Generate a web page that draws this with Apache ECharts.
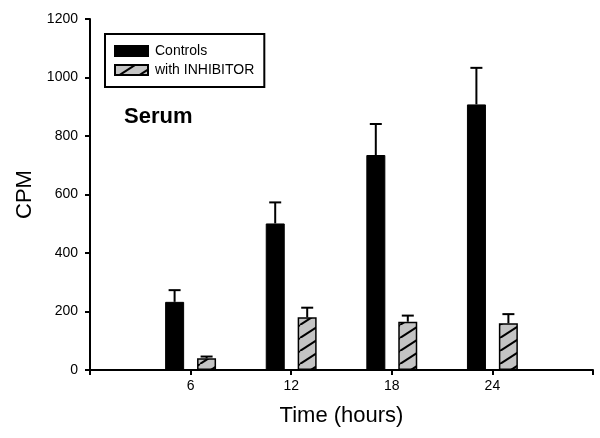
<!DOCTYPE html>
<html>
<head>
<meta charset="utf-8">
<script src="https://cdn.jsdelivr.net/npm/echarts@6/dist/echarts.min.js"></script>
<style>html,body{margin:0;padding:0;background:#fff}#c{width:600px;height:438px}</style>
</head>
<body>
<div id="c"></div>
<script>
var hours = [6, 12, 18, 24];
var controls = [233, 501, 735, 908];
var controlsErr = [40, 72, 106, 125];
var inhibitor = [40, 180, 165, 160];
var inhibitorErr = [6, 33, 21, 31];
var yTicks = [0, 200, 400, 600, 800, 1000, 1200];
var xTickLabels = ['6', '12', '18', '24'];

var FONT = 'Liberation Sans, Arial, Helvetica, sans-serif';

function hatch() {
  var w = 20, h = 13;
  var c = document.createElement('canvas');
  c.width = w; c.height = h;
  var g = c.getContext('2d');
  g.fillStyle = '#c4c4c4';
  g.fillRect(0, 0, w, h);
  g.strokeStyle = '#000';
  g.lineWidth = 2;
  [[-w, 0], [0, 0], [w, 0]].forEach(function (o) {
    g.beginPath();
    g.moveTo(o[0], h);
    g.lineTo(o[0] + w, 0);
    g.stroke();
  });
  return c;
}

function pairs(xs, ys) { return xs.map(function (x, i) { return [x, ys[i]]; }); }
function triples(xs, ys, es) { return xs.map(function (x, i) { return [x, ys[i], es[i]]; }); }

function errRenderer(dx) {
  return function (params, api) {
    var x = api.value(0), v = api.value(1), e = api.value(2);
    var p0 = api.coord([x, v]);
    var p1 = api.coord([x, v + e]);
    var cx = p0[0] + dx;
    return {
      type: 'group',
      children: [
        { type: 'line', shape: { x1: cx, y1: p0[1], x2: cx, y2: p1[1] }, style: { stroke: '#000', lineWidth: 2 } },
        { type: 'line', shape: { x1: cx - 6, y1: p1[1], x2: cx + 6, y2: p1[1] }, style: { stroke: '#000', lineWidth: 2 } }
      ]
    };
  };
}

var chart = echarts.init(document.getElementById('c'), null, { renderer: 'canvas' });
chart.setOption({
  animation: false,
  backgroundColor: '#fff',
  textStyle: { fontFamily: FONT },
  grid: { left: 90, top: 19, right: 7, bottom: 68 },
  legend: {
    left: 105, top: 34,
    orient: 'vertical',
    data: [{ name: 'Controls', icon: 'rect' }, { name: 'with INHIBITOR', icon: 'rect' }],
    itemWidth: 33, itemHeight: 10, itemGap: 5,
    padding: [10, 10, 10, 9],
    borderColor: '#000', borderWidth: 2,
    textStyle: { fontFamily: FONT, fontSize: 14, color: '#000', padding: [0, 0, 0, 2] },
    selectedMode: false
  },
  graphic: [{
    type: 'text', left: 124, top: 106,
    style: { text: 'Serum', font: 'bold 22px ' + FONT, fill: '#000' }
  }],
  xAxis: {
    type: 'value', min: 0, max: 30, interval: 6,
    name: 'Time (hours)', nameLocation: 'middle', nameGap: 35,
    nameTextStyle: { fontFamily: FONT, fontSize: 22, color: '#000' },
    axisLine: { lineStyle: { color: '#000', width: 2 } },
    axisTick: { show: true, length: 5, lineStyle: { color: '#000', width: 2 } },
    axisLabel: {
      margin: 9, fontSize: 14, color: '#000', fontFamily: FONT,
      formatter: function (v) { var i = hours.indexOf(v); return i >= 0 ? xTickLabels[i] : ''; }
    },
    splitLine: { show: false }
  },
  yAxis: {
    type: 'value', min: yTicks[0], max: yTicks[yTicks.length - 1], interval: 200,
    name: 'CPM', nameLocation: 'middle', nameGap: 54,
    nameTextStyle: { fontFamily: FONT, fontSize: 22, color: '#000' },
    axisLine: { show: true, lineStyle: { color: '#000', width: 2 } },
    axisTick: { show: true, length: 5, lineStyle: { color: '#000', width: 2 } },
    axisLabel: { margin: 12, fontSize: 14, color: '#000', fontFamily: FONT, formatter: function (v) { return String(v); } },
    splitLine: { show: false }
  },
  series: [
    {
      name: 'Controls', type: 'bar', data: pairs(hours, controls),
      barWidth: 19, barGap: '68%',
      itemStyle: { color: '#000', borderColor: '#000', borderWidth: 1 }
    },
    {
      name: 'with INHIBITOR', type: 'bar', data: pairs(hours, inhibitor),
      barWidth: 19, barGap: '68%',
      itemStyle: { color: { image: hatch(), repeat: 'repeat' }, borderColor: '#000', borderWidth: 1.5 }
    },
    {
      type: 'custom', data: triples(hours, controls, controlsErr),
      renderItem: errRenderer(-16), z: 3
    },
    {
      type: 'custom', data: triples(hours, inhibitor, inhibitorErr),
      renderItem: errRenderer(16), z: 3
    }
  ]
});
</script>
</body>
</html>
